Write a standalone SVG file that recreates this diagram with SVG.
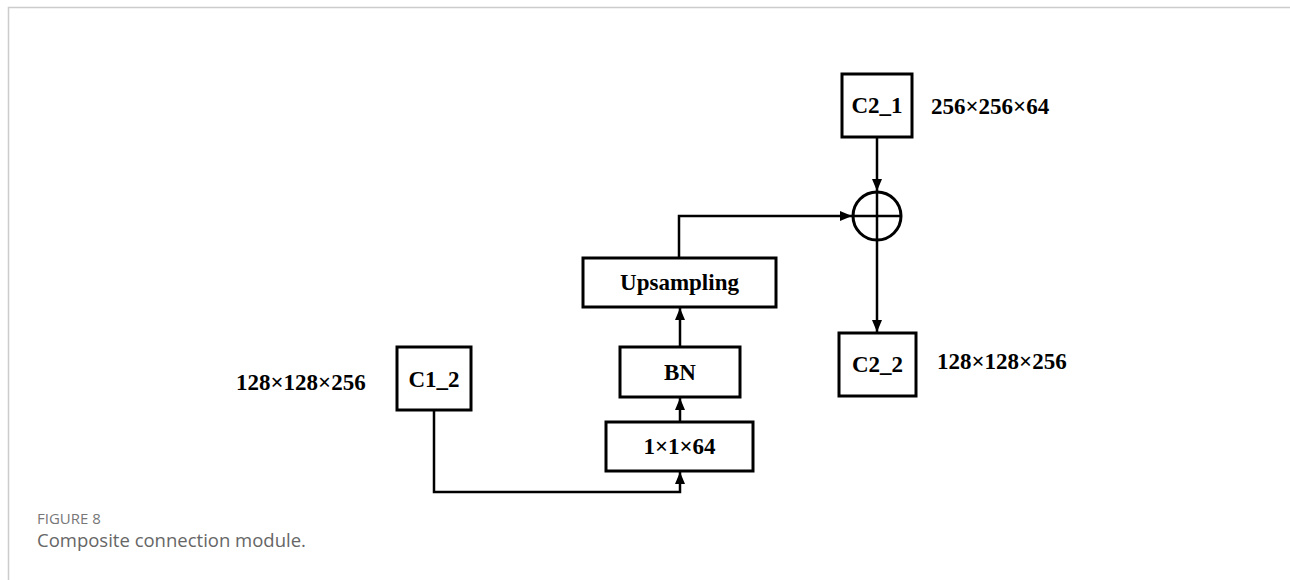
<svg xmlns="http://www.w3.org/2000/svg" width="1290" height="580" viewBox="0 0 1290 580">
<defs>
<style>
.box{fill:#fff;stroke:#000;stroke-width:3}
.lbl{font-family:"Liberation Serif","Times New Roman",serif;font-weight:bold;font-size:23px;fill:#000}
.c{text-anchor:middle}
.ln{fill:none;stroke:#000;stroke-width:2.5}
.cap1{font-family:"Open Sans","Liberation Sans",sans-serif;font-size:15px;fill:#777}
.cap2{font-family:"Open Sans","Liberation Sans",sans-serif;font-size:18.5px;fill:#666}
</style>
<marker id="ah" markerWidth="12" markerHeight="10" refX="12" refY="5" orient="auto" markerUnits="userSpaceOnUse">
<path d="M0,0 L12,5 L0,10 Z" fill="#000"/>
</marker>
</defs>
<rect width="1290" height="580" fill="#fff"/>
<path d="M8.5,580 V7.5 H1290" fill="none" stroke="#ccc" stroke-width="1.5"/>
<g id="connectors">
<path class="ln" d="M434,410 V492 H680 V472" marker-end="url(#ah)"/>
<path class="ln" d="M680,422 V398" marker-end="url(#ah)"/>
<path class="ln" d="M680,347 V308" marker-end="url(#ah)"/>
<path class="ln" d="M679,258 V216 H852" marker-end="url(#ah)"/>
<path class="ln" d="M877,137 V191" marker-end="url(#ah)"/>
<path class="ln" d="M877,240 V332" marker-end="url(#ah)"/>
</g>
<g id="C2_1">
<rect class="box" x="842" y="74" width="70" height="63"/>
<text class="lbl c" x="877" y="113">C2_1</text>
<text class="lbl" x="931" y="114">256×256×64</text>
</g>
<g id="sum">
<circle cx="877" cy="216" r="24" fill="#fff" stroke="#000" stroke-width="3"/>
<path d="M853,216 H901 M877,192 V240" stroke="#000" stroke-width="2.5"/>
</g>
<g id="C2_2">
<rect class="box" x="839" y="333" width="77" height="63"/>
<text class="lbl c" x="877.5" y="372">C2_2</text>
<text class="lbl" x="937" y="369">128×128×256</text>
</g>
<g id="C1_2">
<rect class="box" x="397" y="347" width="74" height="63"/>
<text class="lbl c" x="434" y="387">C1_2</text>
<text class="lbl" x="236" y="390">128×128×256</text>
</g>
<g id="conv">
<rect class="box" x="606" y="422" width="147" height="49"/>
<text class="lbl c" x="679.5" y="454">1×1×64</text>
</g>
<g id="BN">
<rect class="box" x="620" y="347" width="120" height="50"/>
<text class="lbl c" x="680" y="380">BN</text>
</g>
<g id="Upsampling">
<rect class="box" x="583" y="258" width="193" height="49"/>
<text class="lbl c" x="679.5" y="290">Upsampling</text>
</g>
<g id="caption">
<text class="cap1" x="37" y="524">FIGURE 8</text>
<text class="cap2" x="37" y="547">Composite connection module.</text>
</g>
</svg>
